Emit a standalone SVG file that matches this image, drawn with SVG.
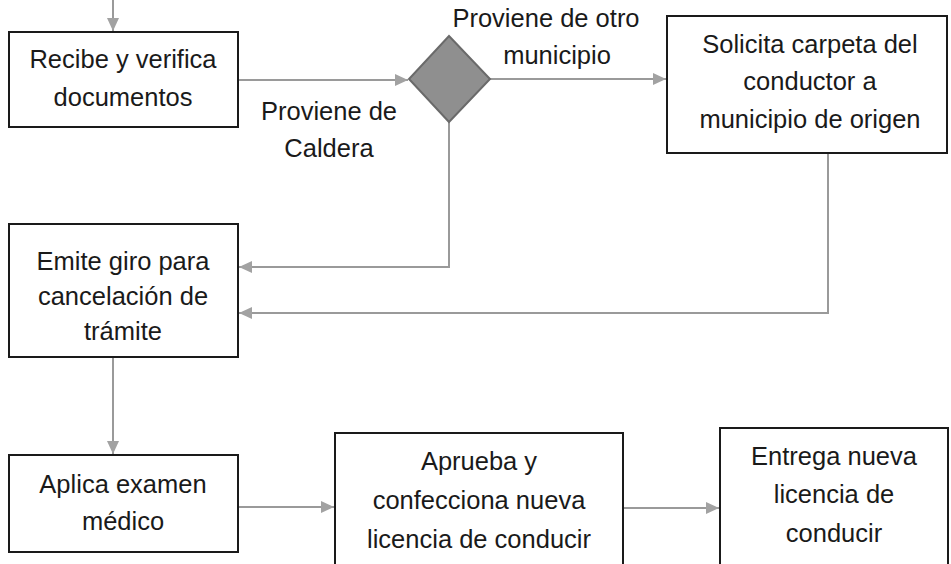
<svg xmlns="http://www.w3.org/2000/svg" width="951" height="564" viewBox="0 0 951 564">
<style>
.box{fill:#fff;stroke:#1a1a1a;stroke-width:2}
.t{font-family:"Liberation Sans",Arial,sans-serif;font-size:25.5px;fill:#1a1a1a;text-anchor:middle}
.c{fill:none;stroke:#9a9a9a;stroke-width:2}
</style>
<defs>
<marker id="ah" markerUnits="userSpaceOnUse" markerWidth="14" markerHeight="12" refX="13" refY="6" orient="auto">
<path d="M0,0 L13,6 L0,12 z" fill="#a2a2a2"/>
</marker>
</defs>
<g id="connectors">
<path class="c" d="M113,0 V31" marker-end="url(#ah)"/>
<path class="c" d="M238,80 H408" marker-end="url(#ah)"/>
<path class="c" d="M490,79 H666" marker-end="url(#ah)"/>
<path class="c" d="M449,122 V267 H239" marker-end="url(#ah)"/>
<path class="c" d="M828,153 V313 H239" marker-end="url(#ah)"/>
<path class="c" d="M113,357 V454" marker-end="url(#ah)"/>
<path class="c" d="M238,507 H334" marker-end="url(#ah)"/>
<path class="c" d="M623,508 H719" marker-end="url(#ah)"/>
</g>
<g id="label-caldera">
<text class="t" x="329" y="120">Proviene de</text>
<text class="t" x="329" y="157">Caldera</text>
</g>
<g id="label-otro">
<text class="t" x="546" y="27">Proviene de otro</text>
<text class="t" x="557" y="64">municipio</text>
</g>
<g id="recibe">
<rect class="box" x="9" y="32" width="229" height="95"/>
<text class="t" x="123" y="68">Recibe y verifica</text>
<text class="t" x="123" y="106">documentos</text>
</g>
<g id="decision">
<polygon points="449,36 490,79 449,122 409,79" fill="#8f8f8f" stroke="#6a6a6a" stroke-width="2"/>
</g>
<g id="solicita">
<rect class="box" x="667" y="16" width="280" height="137"/>
<text class="t" x="810" y="53">Solicita carpeta del</text>
<text class="t" x="810" y="90">conductor a</text>
<text class="t" x="810" y="128">municipio de origen</text>
</g>
<g id="emite">
<rect class="box" x="9" y="224" width="229" height="133"/>
<text class="t" x="123" y="270">Emite giro para</text>
<text class="t" x="123" y="305">cancelación de</text>
<text class="t" x="123" y="340">trámite</text>
</g>
<g id="aplica">
<rect class="box" x="9" y="455" width="229" height="97"/>
<text class="t" x="123" y="493">Aplica examen</text>
<text class="t" x="123" y="530">médico</text>
</g>
<g id="aprueba">
<rect class="box" x="335" y="433" width="288" height="160"/>
<text class="t" x="479" y="470">Aprueba y</text>
<text class="t" x="479" y="509">confecciona nueva</text>
<text class="t" x="479" y="548">licencia de conducir</text>
</g>
<g id="entrega">
<rect class="box" x="720" y="428" width="228" height="165"/>
<text class="t" x="834" y="465">Entrega nueva</text>
<text class="t" x="834" y="503">licencia de</text>
<text class="t" x="834" y="542">conducir</text>
</g>
</svg>
